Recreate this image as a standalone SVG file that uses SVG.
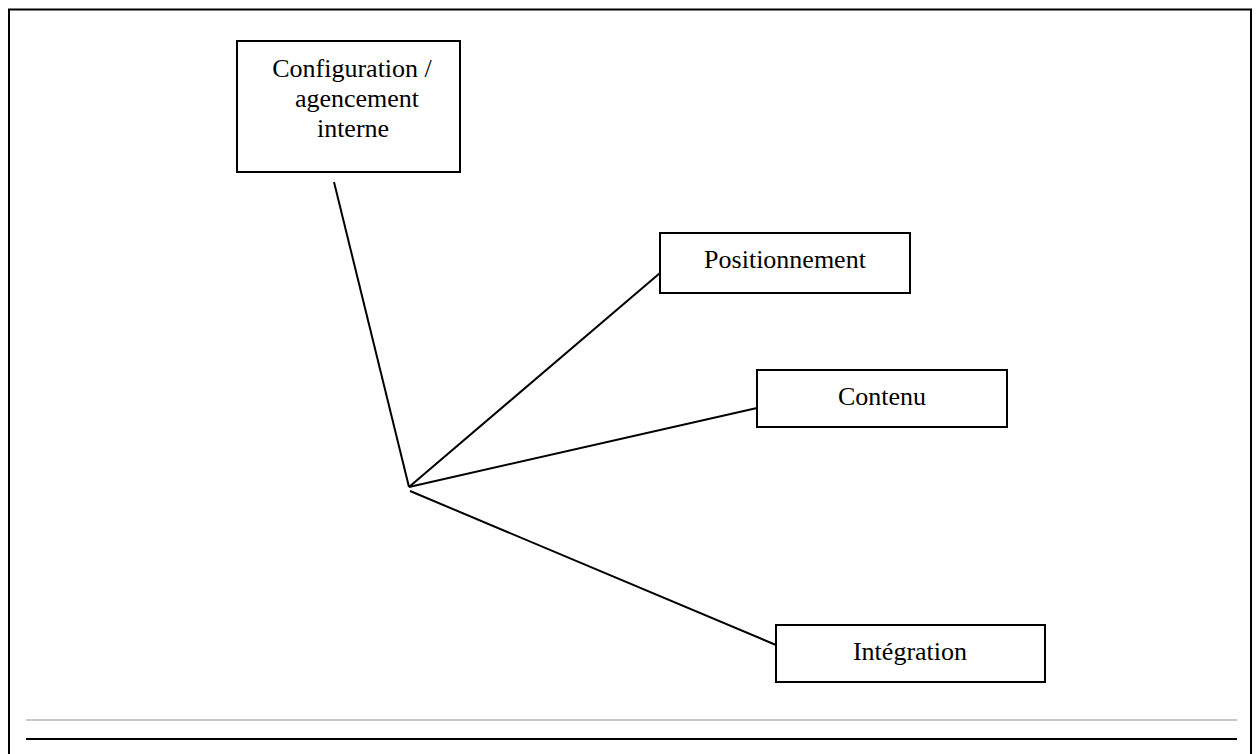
<svg xmlns="http://www.w3.org/2000/svg" width="1256" height="754" viewBox="0 0 1256 754">
<style>
.box{fill:#fff;stroke:#000;stroke-width:2}
.lbl{font-family:"Liberation Serif","Times New Roman",serif;font-size:26px;fill:#000;text-anchor:middle}
.con{stroke:#000;stroke-width:2;fill:none}
</style>
<rect x="0" y="0" width="1256" height="754" fill="#fff"/>
<path d="M9 760 V9.5 H1251 V760" fill="none" stroke="#000" stroke-width="2"/>
<line x1="26" y1="720" x2="1237" y2="720" stroke="#c8c8c8" stroke-width="2"/>
<line x1="26" y1="739" x2="1237" y2="739" stroke="#000" stroke-width="2"/>
<g id="connectors">
<line class="con" x1="334" y1="182" x2="409" y2="487"/>
<line class="con" x1="409" y1="487" x2="660" y2="273"/>
<line class="con" x1="409" y1="487" x2="757" y2="408"/>
<line class="con" x1="410" y1="491" x2="776" y2="645"/>
</g>
<g id="node-config">
<rect class="box" x="237" y="41" width="223" height="131"/>
<text class="lbl" x="352" y="77">Configuration /</text>
<text class="lbl" x="357" y="107">agencement</text>
<text class="lbl" x="353" y="137">interne</text>
</g>
<g id="node-positionnement">
<rect class="box" x="660" y="233" width="250" height="60"/>
<text class="lbl" x="785" y="268">Positionnement</text>
</g>
<g id="node-contenu">
<rect class="box" x="757" y="370" width="250" height="57"/>
<text class="lbl" x="882" y="405">Contenu</text>
</g>
<g id="node-integration">
<rect class="box" x="776" y="625" width="269" height="57"/>
<text class="lbl" x="910" y="660">Intégration</text>
</g>
</svg>
